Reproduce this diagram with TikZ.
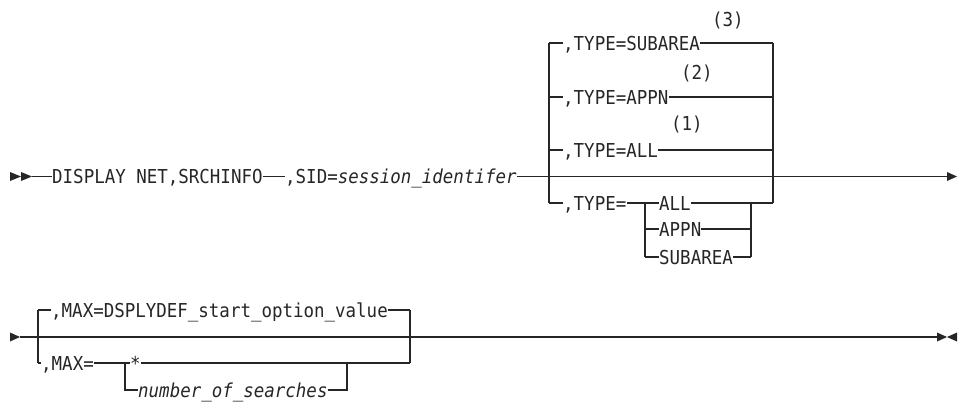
\documentclass[tikz,border=0pt]{standalone}
\usepackage{fontspec}
\newfontfamily\rrmono{DejaVu Sans Mono}[FakeStretch=0.91]
\begin{document}
\begin{tikzpicture}[x=1pt,y=-1pt,
  rr/.style={line width=1.1pt,color=black!85},
  kw/.style={font=\rrmono\fontsize{19.2}{22}\selectfont, inner sep=0pt, anchor=west,
    text height=15pt, text depth=1pt, text=black!85},
  note/.style={kw},
  tipr/.style={fill=black!85},
]
\useasboundingbox (0,0) rectangle (958,402);

% ---------- row 1 ----------
\coordinate (s1) at (32,176.5);
\coordinate (e1) at (947,176.5);
\fill[tipr] (10,172) -- (21,176.5) -- (10,181) -- cycle;
\fill[tipr] (21,172) -- (32,176.5) -- (21,181) -- cycle;
\fill[tipr] (947,172) -- (957,176.5) -- (947,181) -- cycle;

\node[kw] (t1) at (52,176.5) {DISPLAY NET,SRCHINFO};
\node[kw] (t2) at (285,176.5) {,SID=\textit{session\_identifer}};

\coordinate (la) at (549,43);  \coordinate (ra) at (773,43);
\coordinate (lb) at (549,97);  \coordinate (rb) at (773,97);
\coordinate (lc) at (549,150); \coordinate (rc) at (773,150);
\coordinate (ld) at (549,203); \coordinate (rd) at (773,203);

\node[kw] (ta) at (563,43)  {,TYPE=SUBAREA};
\node[kw] (tb) at (563,97)  {,TYPE=APPN};
\node[kw] (tc) at (563,150) {,TYPE=ALL};
\node[kw] (td) at (563,203) {,TYPE=};
\node[note] (na) at (712,19)  {(3)};
\node[note] (nb) at (681,72)  {(2)};
\node[note] (nc) at (671,123) {(1)};

\coordinate (sl1) at (645,203); \coordinate (sl2) at (645,229); \coordinate (sl3) at (645,257);
\coordinate (sr1) at (751,203); \coordinate (sr2) at (751,229); \coordinate (sr3) at (751,257);
\node[kw] (u1) at (659,203) {ALL};
\node[kw] (u2) at (659,229) {APPN};
\node[kw] (u3) at (659,257) {SUBAREA};

\draw[rr] (s1) -- (t1.west);
\draw[rr] (t1.east) -- (t2.west);
\draw[rr] (t2.east) -- (e1);
\draw[rr] (la) -- (ld);
\draw[rr] (ra) -- (rd);
\draw[rr] (la) -- (ta.west); \draw[rr] (ta.east) -- (ra);
\draw[rr] (lb) -- (tb.west); \draw[rr] (tb.east) -- (rb);
\draw[rr] (lc) -- (tc.west); \draw[rr] (tc.east) -- (rc);
\draw[rr] (ld) -- (td.west); \draw[rr] (td.east) -- (u1.west);
\draw[rr] (u1.east) -- (rd);
\draw[rr] (sl1) -- (sl3);
\draw[rr] (sr1) -- (sr3);
\draw[rr] (sl2) -- (u2.west); \draw[rr] (u2.east) -- (sr2);
\draw[rr] (sl3) -- (u3.west); \draw[rr] (u3.east) -- (sr3);

% ---------- row 2 ----------
\coordinate (s2) at (20,337);
\coordinate (e2) at (937,337);
\fill[tipr] (10,332.5) -- (20,337) -- (10,341.5) -- cycle;
\fill[tipr] (937,332.5) -- (947,337) -- (937,341.5) -- cycle;
\fill[tipr] (957,332.5) -- (947,337) -- (957,341.5) -- cycle;

\coordinate (ma) at (38,310); \coordinate (mra) at (410,310);
\coordinate (mb) at (38,363); \coordinate (mrb) at (410,363);
\node[kw] (m1) at (51,310) {,MAX=DSPLYDEF\_start\_option\_value};
\node[kw] (m2) at (41,363) {,MAX=};
\coordinate (vl1) at (125,363); \coordinate (vl2) at (125,390);
\coordinate (vr1) at (347,363); \coordinate (vr2) at (347,390);
\node[kw] (v1) at (130,363) {*};
\node[kw] (v2) at (138,390) {\textit{number\_of\_searches}};

\draw[rr] (s2) -- (e2);
\draw[rr] (ma) -- (mb);
\draw[rr] (mra) -- (mrb);
\draw[rr] (ma) -- (m1.west); \draw[rr] (m1.east) -- (mra);
\draw[rr] (mb) -- (m2.west); \draw[rr] (m2.east) -- (v1.west);
\draw[rr] (v1.east) -- (mrb);
\draw[rr] (vl1) -- (vl2) -- (v2.west);
\draw[rr] (v2.east) -- (vr2) -- (vr1);
\end{tikzpicture}
\end{document}
